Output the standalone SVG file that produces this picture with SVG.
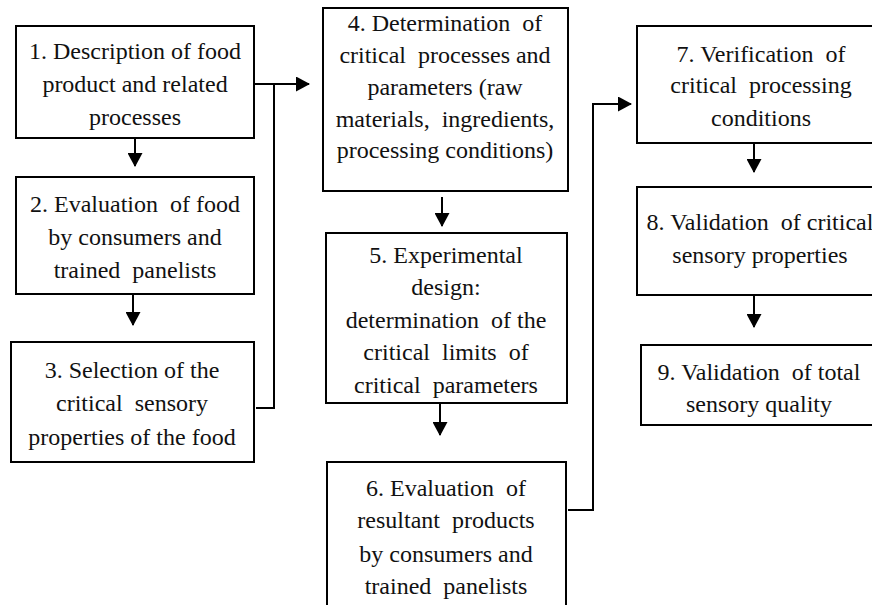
<svg xmlns="http://www.w3.org/2000/svg" width="872" height="605" viewBox="0 0 872 605">
<style>
.box{fill:#fff;stroke:#000;stroke-width:2}
.t{font-family:'Liberation Serif','DejaVu Serif',serif;font-size:24px;fill:#111;text-anchor:middle;white-space:pre}
.c{fill:none;stroke:#000;stroke-width:2}
</style>
<defs>
<marker id="ah" viewBox="0 0 14 15" refX="13" refY="7.5" markerWidth="14" markerHeight="15" orient="auto" markerUnits="userSpaceOnUse">
<path d="M0,0 L14,7.5 L0,15 Z" fill="#000"/>
</marker>
</defs>
<rect width="872" height="605" fill="#fff"/>
<g id="connectors">
<path class="c" d="M254,84 H309" marker-end="url(#ah)"/>
<path class="c" d="M256,408 H274 V84"/>
<path class="c" d="M135,138 V166" marker-end="url(#ah)"/>
<path class="c" d="M133,294 V325" marker-end="url(#ah)"/>
<path class="c" d="M442,197 V226" marker-end="url(#ah)"/>
<path class="c" d="M440,403 V435" marker-end="url(#ah)"/>
<path class="c" d="M568,510 H593 V104 H631" marker-end="url(#ah)"/>
<path class="c" d="M754,143 V172" marker-end="url(#ah)"/>
<path class="c" d="M754,295 V327" marker-end="url(#ah)"/>
</g>
<g id="n1">
<rect class="box" x="16" y="26" width="238" height="112"/>
<text class="t" x="135" y="59">1. Description of food</text>
<text class="t" x="135" y="92">product and related</text>
<text class="t" x="135" y="125">processes</text>
</g>
<g id="n2">
<rect class="box" x="16" y="177" width="238" height="117"/>
<text class="t" x="135" y="212">2. Evaluation  of food</text>
<text class="t" x="135" y="245">by consumers and</text>
<text class="t" x="135" y="278">trained  panelists</text>
</g>
<g id="n3">
<rect class="box" x="11" y="342" width="243" height="120"/>
<text class="t" x="132" y="378">3. Selection of the</text>
<text class="t" x="132" y="411">critical  sensory</text>
<text class="t" x="132" y="445">properties of the food</text>
</g>
<g id="n4">
<rect class="box" x="323" y="8" width="245" height="183"/>
<text class="t" x="445" y="31">4. Determination  of</text>
<text class="t" x="445" y="63">critical  processes and</text>
<text class="t" x="445" y="95">parameters (raw</text>
<text class="t" x="445" y="127">materials,  ingredients,</text>
<text class="t" x="445" y="158">processing conditions)</text>
</g>
<g id="n5">
<rect class="box" x="326" y="233" width="241" height="170"/>
<text class="t" x="446" y="263">5. Experimental</text>
<text class="t" x="446" y="295">design:</text>
<text class="t" x="446" y="328">determination  of the</text>
<text class="t" x="446" y="360">critical  limits  of</text>
<text class="t" x="446" y="393">critical  parameters</text>
</g>
<g id="n6">
<rect class="box" x="327" y="462" width="239" height="160"/>
<text class="t" x="446" y="496">6. Evaluation  of</text>
<text class="t" x="446" y="528">resultant  products</text>
<text class="t" x="446" y="562">by consumers and</text>
<text class="t" x="446" y="594">trained  panelists</text>
</g>
<g id="n7">
<rect class="box" x="637" y="26" width="250" height="117"/>
<text class="t" x="761" y="62">7. Verification  of</text>
<text class="t" x="761" y="93">critical  processing</text>
<text class="t" x="761" y="126">conditions</text>
</g>
<g id="n8">
<rect class="box" x="637" y="187" width="250" height="108"/>
<text class="t" x="760" y="230">8. Validation  of critical</text>
<text class="t" x="760" y="263">sensory properties</text>
</g>
<g id="n9">
<rect class="box" x="641" y="345" width="246" height="80"/>
<text class="t" x="759" y="380">9. Validation  of total</text>
<text class="t" x="759" y="412">sensory quality</text>
</g>
</svg>
